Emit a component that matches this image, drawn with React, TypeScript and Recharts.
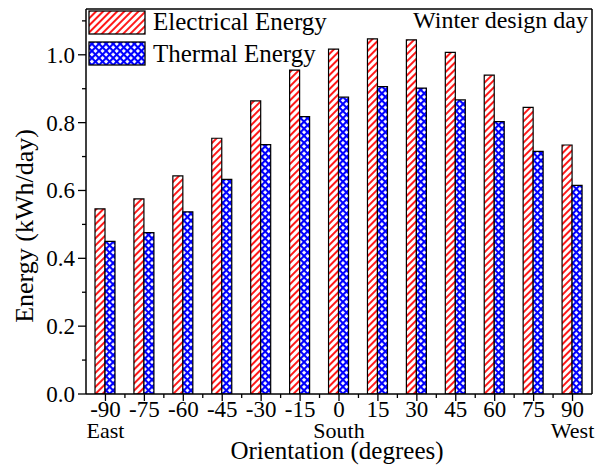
import React from "react";
import { BarChart, Bar, XAxis, YAxis } from "recharts";

// Orientation categories (degrees) and sub labels under the ticks
const CATEGORIES = ["-90", "-75", "-60", "-45", "-30", "-15", "0", "15", "30", "45", "60", "75", "90"];
const SUB_LABELS = ["East", "", "", "", "", "", "South", "", "", "", "", "", "West"];

// Energy (kWh/day), winter design day
const ELECTRICAL = [0.546, 0.575, 0.643, 0.754, 0.864, 0.955, 1.017, 1.047, 1.044, 1.007, 0.94, 0.845, 0.734];
const THERMAL = [0.45, 0.476, 0.537, 0.633, 0.735, 0.818, 0.875, 0.906, 0.902, 0.867, 0.803, 0.715, 0.615];

const Y_TICKS = [0, 0.1, 0.2, 0.3, 0.4, 0.5, 0.6, 0.7, 0.8, 0.9, 1.0, 1.1];
const Y_MAX = 1.135;

const data = CATEGORIES.map((cat, i) => ({
    cat,
    sub: SUB_LABELS[i],
    electrical: ELECTRICAL[i],
    thermal: THERMAL[i],
}));

const FONT = '"Liberation Serif", "Times New Roman", serif';
const AXIS_LINE = { stroke: "#000", strokeWidth: 1.5 };

function XTick({ x, y, payload, index }: any) {
    const half = payload.offset ?? 0;
    const sub = SUB_LABELS[index];
    return (
        <g>
            <line x1={x} y1={y} x2={x} y2={y + 7} stroke="#000" strokeWidth={1.3} />
            {index < CATEGORIES.length - 1 && (
                <line x1={x + half} y1={y} x2={x + half} y2={y + 4} stroke="#000" strokeWidth={1.3} />
            )}
            <text x={x} y={y + 23} textAnchor="middle" fontSize={23} fill="#000">
                {payload.value}
            </text>
            {sub && (
                <text x={x} y={y + 44} textAnchor="middle" fontSize={22} fill="#000">
                    {sub}
                </text>
            )}
        </g>
    );
}

function YTick({ x, y, payload }: any) {
    const major = Math.round(payload.value * 10) % 2 === 0;
    return (
        <g>
            <line x1={x} y1={y} x2={x - (major ? 8 : 4)} y2={y} stroke="#000" strokeWidth={1.3} />
            {major && (
                <text x={x - 11} y={y} dy={8} textAnchor="end" fontSize={23} fill="#000">
                    {payload.value.toFixed(1)}
                </text>
            )}
        </g>
    );
}

export default function App() {
    return (
        <div
            style={{
                position: "absolute",
                left: 0,
                top: 0,
                width: 596,
                height: 470,
                background: "#fff",
                fontFamily: FONT,
            }}
        >
            <BarChart
                width={596}
                height={470}
                data={data}
                margin={{ top: 8, right: 3, left: 0, bottom: 0 }}
                barSize={10}
                barGap={0}
            >
                <defs>
                    <pattern
                        id="hatchRed"
                        patternUnits="userSpaceOnUse"
                        width={5}
                        height={5}
                        patternTransform="rotate(45)"
                    >
                        <rect width={5} height={5} fill="#fff" />
                        <line x1={1} y1={0} x2={1} y2={5} stroke="#ff0000" strokeWidth={1.8} />
                    </pattern>
                    <pattern
                        id="crossBlue"
                        patternUnits="userSpaceOnUse"
                        width={5}
                        height={5}
                        patternTransform="rotate(45)"
                    >
                        <rect width={5} height={5} fill="#fff" />
                        <line x1={1} y1={0} x2={1} y2={5} stroke="#0000ff" strokeWidth={2.2} />
                        <line x1={0} y1={1} x2={5} y2={1} stroke="#0000ff" strokeWidth={2.2} />
                    </pattern>
                </defs>

                <XAxis
                    dataKey="cat"
                    height={76}
                    interval={0}
                    tickSize={0}
                    tickMargin={0}
                    tickLine={false}
                    axisLine={AXIS_LINE}
                    tick={<XTick />}
                />
                <XAxis
                    xAxisId="top"
                    dataKey="cat"
                    orientation="top"
                    height={1}
                    tick={false}
                    tickLine={false}
                    axisLine={AXIS_LINE}
                />
                <YAxis
                    width={86}
                    domain={[0, Y_MAX]}
                    ticks={Y_TICKS}
                    interval={0}
                    allowDataOverflow
                    tickSize={0}
                    tickMargin={0}
                    tickLine={false}
                    axisLine={AXIS_LINE}
                    tick={<YTick />}
                />
                <YAxis
                    yAxisId="right"
                    orientation="right"
                    width={1}
                    domain={[0, Y_MAX]}
                    allowDataOverflow
                    tick={false}
                    tickLine={false}
                    axisLine={AXIS_LINE}
                />

                <Bar
                    dataKey="electrical"
                    fill="url(#hatchRed)"
                    stroke="#000"
                    strokeWidth={1.2}
                    isAnimationActive={false}
                />
                <Bar
                    dataKey="thermal"
                    fill="url(#crossBlue)"
                    stroke="#000"
                    strokeWidth={1.2}
                    isAnimationActive={false}
                />

                {/* legend */}
                <rect x={89} y={11} width={56} height={23} fill="url(#hatchRed)" stroke="#000" strokeWidth={1.3} />
                <rect x={89} y={42} width={56} height={23} fill="url(#crossBlue)" stroke="#000" strokeWidth={1.3} />
                <text x={153} y={30} fontSize={25} fill="#000">
                    Electrical Energy
                </text>
                <text x={153} y={62} fontSize={25} fill="#000">
                    Thermal Energy
                </text>
                <text x={588} y={28} textAnchor="end" fontSize={24} fill="#000">
                    Winter design day
                </text>

                {/* axis titles */}
                <text x={337} y={459} textAnchor="middle" fontSize={25} fill="#000">
                    Orientation (degrees)
                </text>
                <text transform="translate(33,226) rotate(-90)" textAnchor="middle" fontSize={26} fill="#000">
                    Energy (kWh/day)
                </text>
            </BarChart>
        </div>
    );
}
